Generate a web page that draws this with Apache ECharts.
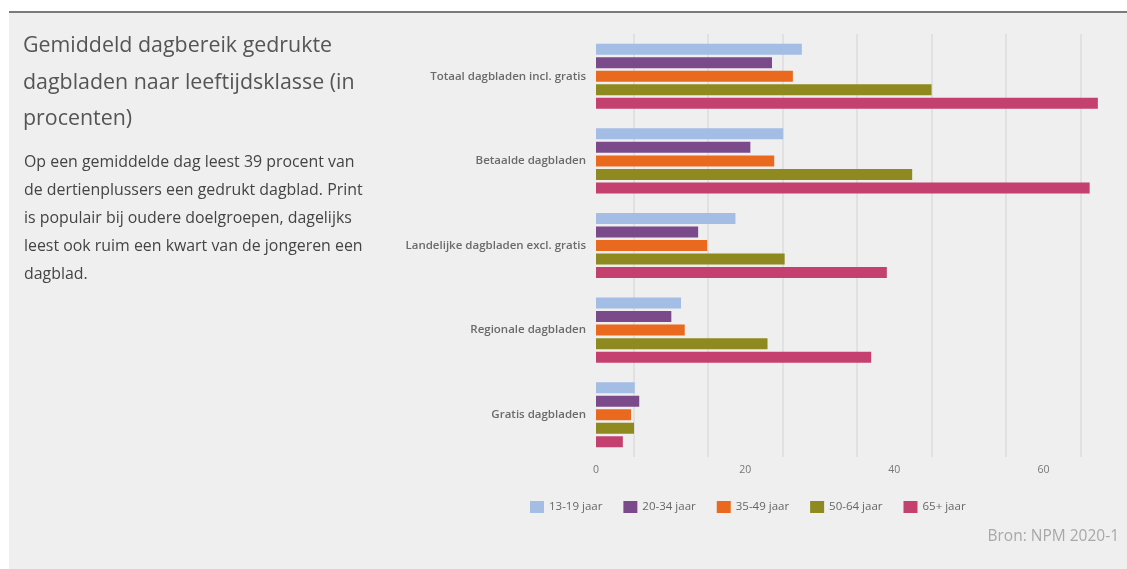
<!DOCTYPE html>
<html>
<head>
<meta charset="utf-8">
<script src="https://cdn.jsdelivr.net/npm/echarts@6/dist/echarts.min.js"></script>
<style>
  html, body { margin: 0; padding: 0; background: #ffffff; }
  #panel { position: absolute; left: 9px; top: 11px; width: 1118px; height: 558px; background: #efefef; border-top: 2.5px solid #7b7b7b; box-sizing: border-box; }
  #chart { position: absolute; left: 0; top: 0; width: 1127px; height: 569px; }
</style>
</head>
<body>
<div id="panel"></div>
<div id="chart"></div>
<script>
const categories = [
  'Totaal dagbladen incl. gratis',
  'Betaalde dagbladen',
  'Landelijke dagbladen excl. gratis',
  'Regionale dagbladen',
  'Gratis dagbladen'
];
const seriesNames = ['13-19 jaar', '20-34 jaar', '35-49 jaar', '50-64 jaar', '65+ jaar'];
const age13_19 = [27.6, 25.1, 18.7, 11.4, 5.2];
const age20_34 = [23.6, 20.7, 13.7, 10.1, 5.8];
const age35_49 = [26.4, 23.9, 14.9, 11.9, 4.7];
const age50_64 = [45.0, 42.4, 25.3, 23.0, 5.1];
const age65plus = [67.3, 66.2, 39.0, 36.9, 3.6];
const seriesValues = [age13_19, age20_34, age35_49, age50_64, age65plus];
const colors = ['#a4bde5', '#7b4a8b', '#e96a1f', '#8e8a1f', '#c4406f'];

const titleText = 'Gemiddeld dagbereik gedrukte\ndagbladen naar leeftijdsklasse (in\nprocenten)';
const bodyText = 'Op een gemiddelde dag leest 39 procent van\nde dertienplussers een gedrukt dagblad. Print\nis populair bij oudere doelgroepen, dagelijks\nleest ook ruim een kwart van de jongeren een\ndagblad.';
const sourceText = 'Bron: NPM 2020-1';

const chart = echarts.init(document.getElementById('chart'), null, { renderer: 'canvas' });
const FONT = '"Open Sans", "DejaVu Sans", sans-serif';

chart.setOption({
  backgroundColor: 'transparent',
  animation: false,
  title: [
    { text: titleText, left: 23, top: 28, padding: 0,
      textStyle: { fontFamily: FONT, fontSize: 21.4, fontWeight: 'normal', color: '#555555', lineHeight: 36.5 } },
    { text: bodyText, left: 24, top: 148, padding: 0,
      textStyle: { fontFamily: FONT, fontSize: 15.9, fontWeight: 'normal', color: '#444444', lineHeight: 28.1 } },
    { text: sourceText, right: 8, top: 529, padding: 0,
      textStyle: { fontFamily: FONT, fontSize: 15.5, fontWeight: 'normal', color: '#a8a8a8' } }
  ],
  legend: {
    left: 530, top: 501, padding: 0,
    itemWidth: 14, itemHeight: 12, itemGap: 21,
    icon: 'rect',
    textStyle: { fontFamily: FONT, fontSize: 11.5, color: '#666666', padding: [0, 0, 0, 0] },
    data: seriesNames
  },
  grid: { left: 596, top: 34, width: 522, height: 423, containLabel: false },
  xAxis: {
    type: 'value', min: 0, max: 70, interval: 5,
    axisLine: { show: false }, axisTick: { show: false },
    axisLabel: { fontFamily: FONT, fontSize: 10.5, color: '#777777', margin: 8,
      formatter: v => (v % 20 === 0 ? String(v) : '') },
    splitLine: { show: true, lineStyle: { color: ['transparent', '#dcdcdc'], width: 1.5 } }
  },
  yAxis: {
    type: 'category', data: categories, inverse: true,
    axisLine: { show: false }, axisTick: { show: false },
    axisLabel: { fontFamily: FONT, fontSize: 11.5, fontWeight: 600, color: '#6a6a6a', margin: 10 }
  },
  series: seriesNames.map((name, i) => ({
    name, type: 'bar', data: seriesValues[i],
    barWidth: 11, barGap: '23%',
    itemStyle: { color: colors[i] }
  }))
});
</script>
</body>
</html>
